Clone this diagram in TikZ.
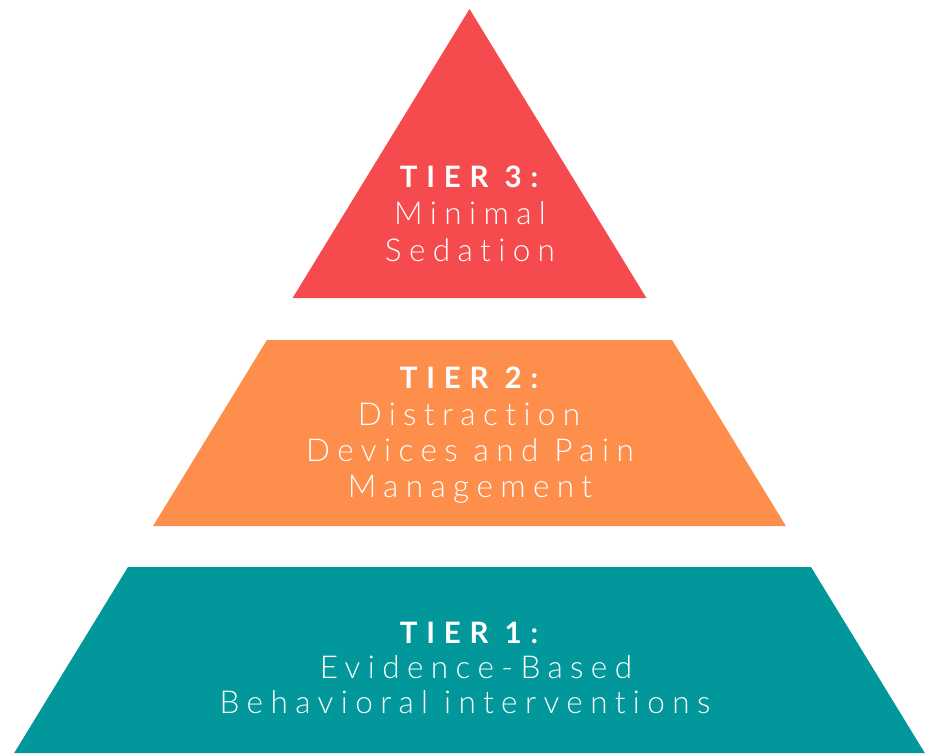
\documentclass[tikz,border=0pt]{standalone}
\usepackage{fontspec}
\setmainfont{Lato}
\newfontfamily\tierlight{Lato Light}[LetterSpace=23.5, Ligatures=NoCommon]
\newfontfamily\tierbold{Lato Bold}[LetterSpace=30, Ligatures=NoCommon]
\definecolor{tierred}{HTML}{F54B4E}
\definecolor{tierorange}{HTML}{FD8E4C}
\definecolor{tierteal}{HTML}{02979B}
\tikzset{
  head/.style={anchor=base, inner sep=0pt, text=white, font=\tierbold\fontsize{29.5}{29.5}\selectfont},
  body/.style={anchor=base, inner sep=0pt, text=white, font=\tierlight\fontsize{31.5}{31.5}\selectfont},
}
\begin{document}
\begin{tikzpicture}[x=1pt,y=-1pt]
\useasboundingbox (0,0) rectangle (927,753);
% tier 3 triangle
\coordinate (apex) at (469.5,9);
\coordinate (t3l) at (292.6,298);
\coordinate (t3r) at (646.4,298);
\fill[tierred] (apex) -- (t3r) -- (t3l) -- cycle;
% tier 2 trapezoid
\coordinate (t2tl) at (266.9,340);
\coordinate (t2tr) at (672.1,340);
\coordinate (t2bl) at (153.1,526);
\coordinate (t2br) at (785.9,526);
\fill[tierorange] (t2tl) -- (t2tr) -- (t2br) -- (t2bl) -- cycle;
% tier 1 trapezoid
\coordinate (t1tl) at (128,567);
\coordinate (t1tr) at (811,567);
\coordinate (t1bl) at (14.2,753);
\coordinate (t1br) at (924.8,753);
\fill[tierteal] (t1tl) -- (t1tr) -- (t1br) -- (t1bl) -- cycle;
% texts
\node[head] (h3) at (469,187) {TIER 3:};
\node[body] (b3a) at (470,224) {Minimal};
\node[body] (b3b) at (470,261) {Sedation};
\node[head] (h2) at (469,388) {TIER 2:};
\node[body] (b2a) at (469,425) {Distraction};
\node[body] (b2b) at (470,461) {Devices and Pain};
\node[body] (b2c) at (470,497) {Management};
\node[head] (h1) at (469,643) {TIER 1:};
\node[body] (b1a) at (476,678) {Evidence-Based};
\node[body] (b1b) at (465,713) {Behavioral interventions};
\end{tikzpicture}
\end{document}
